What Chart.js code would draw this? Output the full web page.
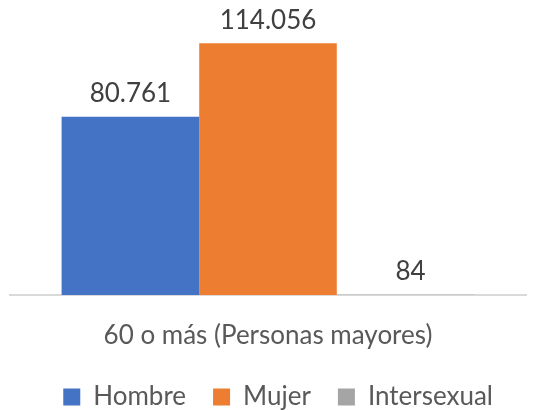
<!DOCTYPE html>
<html>
<head>
<meta charset="utf-8">
<script src="https://cdn.jsdelivr.net/npm/chart.js@4"></script>
<style>
  html, body { margin: 0; padding: 0; background: #fff; }
  #wrap { width: 533px; height: 410px; }
</style>
</head>
<body>
<div id="wrap"><canvas id="chart"></canvas></div>
<script>
const categories = ["60 o más (Personas mayores)"];
const seriesNames = ["Hombre", "Mujer", "Intersexual"];
const hombre = [80761];
const mujer = [114056];
const intersexual = [84];
const colors = ["#4472C4", "#ED7D31", "#A5A5A5"];

const FONT = "Lato";

// labels above bars, es-ES thousands separator
const valueLabels = {
  id: "valueLabels",
  afterDatasetsDraw(chart) {
    const ctx = chart.ctx;
    ctx.save();
    ctx.font = "26px " + FONT;
    ctx.fillStyle = "#404040";
    ctx.textAlign = "center";
    ctx.textBaseline = "bottom";
    chart.data.datasets.forEach(function (ds, i) {
      const meta = chart.getDatasetMeta(i);
      meta.data.forEach(function (bar, j) {
        const v = ds.data[j];
        const txt = v.toLocaleString("es-ES", { useGrouping: true, minimumGroupingDigits: 1 });
        ctx.fillText(txt.replace(/\s/g, "."), bar.x + (i === 2 ? 5 : 0), bar.y - 10);
      });
    });
    ctx.restore();
  },
};

// nudge legend a bit to the left
const legendShift = {
  id: "legendShift",
  afterLayout(chart) {
    if (chart.legend) chart.legend.right -= 6;
  },
};

const ctx = document.getElementById("chart").getContext("2d");
new Chart(ctx, {
  type: "bar",
  data: {
    labels: categories,
    datasets: [
      { label: seriesNames[0], data: hombre, backgroundColor: colors[0] },
      { label: seriesNames[1], data: mujer, backgroundColor: colors[1] },
      { label: seriesNames[2], data: intersexual, backgroundColor: colors[2] },
    ],
  },
  options: {
    responsive: true,
    maintainAspectRatio: false,
    animation: false,
    layout: { padding: { left: 10, right: 7, top: 30, bottom: -10 } },
    datasets: { bar: { categoryPercentage: 0.8, barPercentage: 1.0 } },
    plugins: {
      legend: {
        position: "bottom",
        align: "end",
        labels: {
          font: { family: FONT, size: 26 },
          color: "#595959",
          boxWidth: 17,
          boxHeight: 17,
          padding: 27,
        },
      },
      tooltip: { enabled: false },
    },
    scales: {
      x: {
        grid: { display: false },
        border: { display: true, color: "#D9D9D9", width: 2 },
        ticks: { font: { family: FONT, size: 26 }, color: "#595959", padding: 17 },
        afterFit(scale) {
          scale.height = 62;
        },
      },
      y: {
        display: false,
        min: 0,
        max: 120000,
      },
    },
  },
  plugins: [valueLabels, legendShift],
});
</script>
</body>
</html>
